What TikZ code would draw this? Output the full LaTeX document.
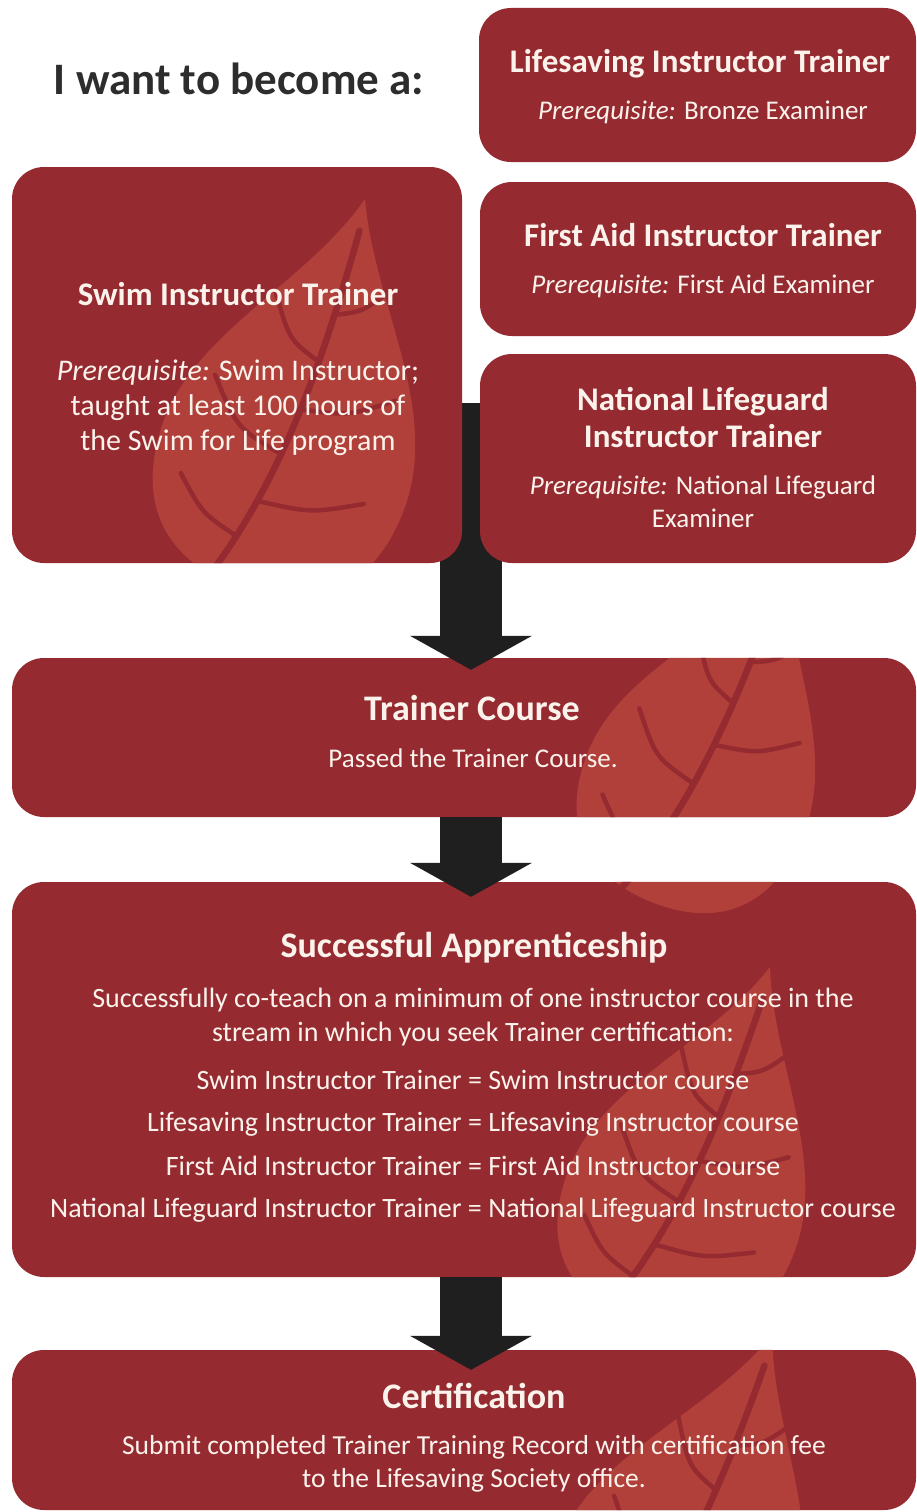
\documentclass[tikz,border=0pt]{standalone}
\usepackage{fontspec}
\setmainfont{Carlito}
\usetikzlibrary{arrows.meta}
\definecolor{customcolor1}{HTML}{952A30}
\definecolor{customcolor2}{HTML}{B1403A}
\definecolor{customcolor3}{HTML}{1F1F1F}
\definecolor{customcolor4}{HTML}{FBF2EC}
\definecolor{customcolor5}{HTML}{2D2D2D}

% tip x, tip y, angle, length
\newcommand{\leaf}[4]{%
  \begin{scope}[shift={(#1,#2)}, rotate=#3, scale=#4]
    \fill[customcolor2] (0,0) .. controls (0.1,0.25) and (0.34,0.45) .. (0.32,0.72)
      .. controls (0.3,0.98) and (0.12,1.02) .. (0,1.02)
      .. controls (-0.14,1.02) and (-0.32,0.96) .. (-0.32,0.7)
      .. controls (-0.32,0.45) and (-0.08,0.25) .. (0,0) -- cycle;
    \draw[customcolor1, line width=6.5pt, line cap=round] (0.01,0.08) .. controls (0.02,0.45) and (0,0.75) .. (-0.1,1.02);
    \draw[customcolor1, line width=4.5pt, line cap=round]
      (0.01,0.30) .. controls (0.08,0.27) .. (0.14,0.18)
      (0.0,0.42) .. controls (-0.08,0.39) .. (-0.15,0.28)
      (0.0,0.55) .. controls (0.12,0.53) .. (0.22,0.46)
      (-0.02,0.67) .. controls (-0.14,0.64) .. (-0.23,0.53)
      (-0.03,0.80) .. controls (0.1,0.79) .. (0.22,0.73)
      (-0.06,0.90) .. controls (-0.16,0.87) .. (-0.24,0.79);
  \end{scope}}

\begin{document}
\begin{tikzpicture}[x=1pt, y=-1pt,
    box/.style={fill=customcolor1, rounded corners=32pt, inner sep=0pt},
    ttl/.style={text=customcolor4, anchor=base, font=\bfseries\fontsize{33}{38}\selectfont},
    bigttl/.style={text=customcolor4, anchor=base, font=\bfseries\fontsize{36}{42}\selectfont},
    txt/.style={text=customcolor4, anchor=base, font=\fontsize{27}{32}\selectfont},
    bigarrow/.style={customcolor3, line width=62pt, -{Triangle[width=122pt, length=34pt, line width=0pt]}}]

        \fill[white] (0,0) rectangle (917,1512);
        \useasboundingbox (0,0) rectangle (917,1512);

        % Lower boxes
        \node [box, minimum width=904pt, minimum height=159pt] (e) at (464, 737.5) {};
        \node [box, minimum width=904pt, minimum height=395pt] (f) at (464, 1079.5) {};
        \node [box, minimum width=904pt, minimum height=160pt] (g) at (464, 1430) {};

        % Leaves
        \begin{scope}
            \clip [rounded corners=32pt] (e.north west) rectangle (e.south east);
            \leaf{785}{560}{-21}{360}
        \end{scope}
        \begin{scope}
            \clip [rounded corners=32pt] (f.north west) rectangle (f.south east);
            \leaf{785}{560}{-21}{360}
            \leaf{770}{967}{-20}{375}
        \end{scope}
        \begin{scope}
            \clip [rounded corners=32pt] (g.north west) rectangle (g.south east);
            \leaf{772}{1335}{-21}{390}
        \end{scope}

        % Arrows
        \coordinate (s) at (471, 403);
        \draw [bigarrow, shorten >=-12pt] (s) -- (s |- e.north);
        \draw [bigarrow, shorten >=-15pt] (s |- e.south) -- (s |- f.north);
        \draw [bigarrow, shorten >=-20pt] (s |- f.south) -- (s |- g.north);

        % Upper boxes
        \node [box, minimum width=437pt, minimum height=154pt] (a) at (697.5, 85) {};
        \node [box, minimum width=450pt, minimum height=396pt] (b) at (237, 365) {};
        \node [box, minimum width=436pt, minimum height=154pt] (c) at (698, 259) {};
        \node [box, minimum width=436pt, minimum height=209pt] (d) at (698, 458.5) {};
        \begin{scope}
            \clip [rounded corners=32pt] (b.north west) rectangle (b.south east);
            \leaf{365}{199}{-17}{400}
        \end{scope}

        % Texts
        \node [anchor=base, text=customcolor5, font=\bfseries\fontsize{45}{50}\selectfont] (h) at (239, 94) {I want to become a:};

        \node [ttl] (a1) at (700, 72) {Lifesaving Instructor Trainer};
        \node [txt] (a2) at (703, 119) {\textit{Prerequisite:} Bronze Examiner};

        \node [ttl] (b1) at (238, 305) {Swim Instructor Trainer};
        \node [txt, font=\fontsize{30}{35}\selectfont] (b2) at (238, 380) {\textit{Prerequisite:} Swim Instructor;};
        \node [txt, font=\fontsize{30}{35}\selectfont] (b3) at (238, 415) {taught at least 100 hours of};
        \node [txt, font=\fontsize{30}{35}\selectfont] (b4) at (238, 450) {the Swim for Life program};

        \node [ttl] (c1) at (703, 246) {First Aid Instructor Trainer};
        \node [txt] (c2) at (703, 293) {\textit{Prerequisite:} First Aid Examiner};

        \node [ttl] (d1) at (703, 410) {National Lifeguard};
        \node [ttl] (d2) at (703, 447) {Instructor Trainer};
        \node [txt] (d3) at (703, 494) {\textit{Prerequisite:} National Lifeguard};
        \node [txt] (d4) at (703, 527) {Examiner};

        \node [bigttl] (e1) at (472, 720) {Trainer Course};
        \node [txt] (e2) at (473, 767) {Passed the Trainer Course.};

        \node [bigttl] (f1) at (474, 957) {Successful Apprenticeship};
        \node [txt, font=\fontsize{28}{33}\selectfont] (f2) at (473, 1007) {Successfully co-teach on a minimum of one instructor course in the};
        \node [txt, font=\fontsize{28}{33}\selectfont] (f3) at (473, 1041) {stream in which you seek Trainer certification:};
        \node [txt, font=\fontsize{28}{33}\selectfont] (f4) at (473, 1089) {Swim Instructor Trainer = Swim Instructor course};
        \node [txt, font=\fontsize{28}{33}\selectfont] (f5) at (473, 1131) {Lifesaving Instructor Trainer = Lifesaving Instructor course};
        \node [txt, font=\fontsize{28}{33}\selectfont] (f6) at (473, 1175) {First Aid Instructor Trainer = First Aid Instructor course};
        \node [txt, font=\fontsize{28}{33}\selectfont] (f7) at (473, 1217) {National Lifeguard Instructor Trainer = National Lifeguard Instructor course};

        \node [bigttl] (g1) at (474, 1408) {Certification};
        \node [txt, font=\fontsize{27.5}{32}\selectfont] (g2) at (474, 1454) {Submit completed Trainer Training Record with certification fee};
        \node [txt, font=\fontsize{27.5}{32}\selectfont] (g3) at (474, 1487) {to the Lifesaving Society office.};

    \end{tikzpicture}
\end{document}
